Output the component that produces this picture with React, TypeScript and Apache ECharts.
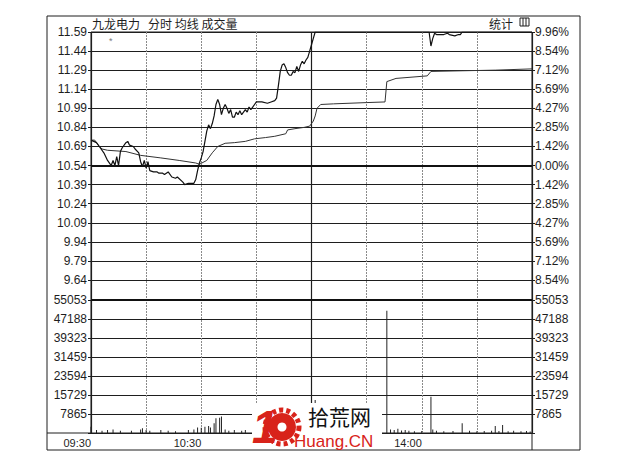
import React, { useEffect, useRef } from "react";
import * as echarts from "echarts";

// ---- tick labels ----
const priceTicks = ["11.59", "11.44", "11.29", "11.14", "10.99", "10.84", "10.69", "10.54", "10.39", "10.24", "10.09", "9.94", "9.79", "9.64"];
const pctTicks = ["9.96%", "8.54%", "7.12%", "5.69%", "4.27%", "2.85%", "1.42%", "0.00%", "1.42%", "2.85%", "4.27%", "5.69%", "7.12%", "8.54%"];
const volTicks = ["55053", "47188", "39323", "31459", "23594", "15729", "7865", ""];
const timeTickMinutes = [0, 60, 180];
const timeTickLabels = ["09:30", "10:30", "14:00"];
const prevClose = 10.54;
const sessionMinutes = 240;

// ---- price (minutes after 09:30, price) ----
const priceMinutes = [0, 3, 5, 7, 9, 11, 12, 13, 14, 15, 16, 17, 19, 20, 21, 23, 24, 26, 27, 28, 29, 30, 31, 32, 34, 36, 37, 39, 40, 42, 44, 46, 47, 50, 51, 53, 56, 57, 58, 59, 60, 61, 62, 63, 64, 65, 66, 67, 68, 69, 70, 71, 72, 73, 74, 75, 76, 77, 78, 79, 80, 81, 82, 84, 85, 86, 87, 88, 89, 90, 93, 96, 98, 100, 101, 102, 103, 104, 105, 106, 107, 108, 109, 110, 111, 112, 113, 114, 115, 116, 117, 118, 119, 120, 121, 122, 184, 185, 186, 187, 188, 190, 192, 194, 195, 198, 200, 201, 202, 240];
const priceValues = [10.74, 10.72, 10.68, 10.64, 10.58, 10.54, 10.58, 10.54, 10.61, 10.54, 10.65, 10.68, 10.72, 10.73, 10.70, 10.69, 10.67, 10.64, 10.57, 10.53, 10.58, 10.52, 10.57, 10.50, 10.49, 10.49, 10.48, 10.48, 10.47, 10.49, 10.45, 10.44, 10.45, 10.41, 10.39, 10.40, 10.40, 10.43, 10.50, 10.56, 10.60, 10.65, 10.73, 10.81, 10.86, 10.83, 10.87, 10.93, 11.02, 11.06, 11.02, 10.94, 10.99, 11.02, 10.99, 10.95, 10.98, 10.92, 10.92, 10.96, 10.94, 10.97, 10.94, 10.98, 10.96, 11.00, 10.98, 11.00, 11.02, 11.04, 11.04, 11.03, 11.04, 11.05, 11.07, 11.17, 11.28, 11.33, 11.34, 11.31, 11.27, 11.25, 11.25, 11.28, 11.27, 11.32, 11.28, 11.33, 11.36, 11.34, 11.37, 11.39, 11.44, 11.49, 11.54, 11.59, 11.59, 11.48, 11.54, 11.58, 11.57, 11.57, 11.57, 11.58, 11.57, 11.56, 11.57, 11.57, 11.59, 11.59];

// ---- average price ----
const avgMinutes = [0, 2, 4, 6, 9, 19, 27, 38, 48, 57, 59, 63, 66, 69, 73, 78, 84, 89, 95, 100, 106, 107, 111, 116, 119, 121, 122, 123, 125, 132, 150, 160, 161, 166, 183, 185, 202, 220, 240];
const avgValues = [10.74, 10.74, 10.70, 10.67, 10.66, 10.65, 10.62, 10.60, 10.58, 10.56, 10.55, 10.58, 10.64, 10.69, 10.715, 10.72, 10.73, 10.75, 10.76, 10.77, 10.79, 10.82, 10.83, 10.84, 10.85, 10.89, 10.93, 10.99, 11.02, 11.025, 11.035, 11.04, 11.20, 11.225, 11.245, 11.28, 11.285, 11.29, 11.30];

// ---- volume ----
const volMinutes = [0, 3, 6, 9, 12, 16, 22, 27, 28, 30, 32, 38, 42, 46, 53, 56, 58, 60, 62, 64, 65, 67, 68, 70, 71, 73, 75, 78, 82, 84, 88, 92, 97, 103, 122, 161, 163, 165, 167, 169, 171, 173, 176, 180, 185, 186, 188, 192, 197, 202, 206, 210, 214, 218, 220, 222, 224, 227, 230, 234, 237, 239];
const volValues = [2600, 1200, 950, 1200, 1500, 950, 950, 1500, 2000, 1200, 950, 1200, 950, 700, 1200, 1500, 2300, 2200, 2600, 2900, 2300, 4000, 6100, 6300, 6800, 1500, 950, 1200, 950, 1200, 700, 900, 700, 1500, 13700, 50600, 1500, 1200, 1800, 1000, 1200, 900, 700, 800, 15000, 1500, 900, 700, 800, 4000, 900, 700, 800, 900, 2900, 800, 3300, 700, 900, 700, 800, 600];

const FONT = "'Liberation Sans', Arial, sans-serif";
const CJK = "'Noto Sans CJK SC', sans-serif";
const INK = "#1e1e1e";

export default function App() {
  const ref = useRef<HTMLDivElement>(null);
  useEffect(() => {
    if (!ref.current) return;
    const chart = echarts.init(ref.current, undefined, { renderer: "svg" });
    const nP = priceTicks.length - 1;
    const nV = volTicks.length - 1;
    const priceMax = parseFloat(priceTicks[0]);
    const priceMin = parseFloat(priceTicks[nP]);
    const volMax = Number(volTicks[0]);

    const L = 91, W = 441;
    const hiddenX = (g: number) => ({ type: "value", gridIndex: g, min: 0, max: sessionMinutes, show: false });
    const idxAxis = (g: number, n: number, labels: string[], pos: string, split: boolean, margin: number) => ({
      type: "value", gridIndex: g, position: pos, min: 0, max: n, interval: 1,
      axisLine: { show: false },
      axisTick: { show: true, length: 3, lineStyle: { color: INK } },
      axisLabel: { margin, color: INK, fontSize: 12, fontFamily: FONT, formatter: (v: number) => labels[n - Math.round(v)] ?? "" },
      splitLine: { show: split, lineStyle: { color: INK, width: 1.2 } },
    });

    chart.setOption({
      animation: false,
      backgroundColor: "#fff",
      textStyle: { fontFamily: FONT },
      grid: [
        { left: L, width: W, top: 32, height: 248, show: false },
        { left: L, width: W, top: 300, height: 133, show: false },
        { left: L, width: W, top: 32, height: 401, show: true, borderColor: INK, borderWidth: 1 },
      ],
      xAxis: [
        hiddenX(0),
        hiddenX(1),
        {
          type: "value", gridIndex: 2, min: 0, max: sessionMinutes, interval: 30,
          axisLine: { show: false }, axisTick: { show: false },
          axisLabel: {
            align: "right", margin: 4, color: INK, fontSize: 11, fontFamily: FONT,
            formatter: (v: number) => { const i = timeTickMinutes.indexOf(v); return i >= 0 ? timeTickLabels[i] : ""; },
          },
          splitLine: { show: true, lineStyle: { color: "#8a8a8a", width: 1, type: [2, 1] } },
        },
        {
          type: "value", gridIndex: 2, min: 0, max: sessionMinutes, interval: 120,
          axisLine: { show: false }, axisTick: { show: false }, axisLabel: { show: false },
          splitLine: { show: true, lineStyle: { color: INK, width: 1.2 } },
        },
      ],
      yAxis: [
        idxAxis(0, nP, priceTicks, "left", true, 4),
        idxAxis(0, nP, pctTicks, "right", false, 3),
        { type: "value", gridIndex: 0, min: priceMin, max: priceMax, show: false },
        idxAxis(1, nV, volTicks, "left", true, 4),
        idxAxis(1, nV, volTicks, "right", false, 3),
        { type: "value", gridIndex: 1, min: 0, max: volMax, show: false },
        { type: "value", gridIndex: 2, show: false, splitLine: { show: false } },
      ],
      series: [
        {
          type: "line", name: "均线", xAxisIndex: 0, yAxisIndex: 2, symbol: "none", clip: true,
          data: avgMinutes.map((m, i) => [m, avgValues[i]]),
          lineStyle: { color: "#333", width: 1 },
        },
        {
          type: "line", name: "分时", xAxisIndex: 0, yAxisIndex: 2, symbol: "none", clip: true,
          data: priceMinutes.map((m, i) => [m, priceValues[i]]),
          lineStyle: { color: "#111", width: 1.2 },
          markLine: {
            silent: true, symbol: ["none", "none"], label: { show: false },
            lineStyle: { color: "#111", width: 2, type: "solid" },
            data: [{ yAxis: prevClose }],
          },
        },
        {
          type: "bar", name: "成交量", xAxisIndex: 1, yAxisIndex: 5, barWidth: 1,
          data: volMinutes.map((m, i) => [m, volValues[i]]),
          itemStyle: { color: "#222" },
          markLine: {
            silent: true, symbol: ["none", "none"], label: { show: false },
            lineStyle: { color: "#111", width: 2, type: "solid" },
            data: [{ yAxis: volMax }],
          },
        },
      ],
      graphic: [
        { type: "rect", shape: { x: 47, y: 16, width: 533, height: 434 }, style: { fill: "none", stroke: INK, lineWidth: 1 }, z: 10 },
        { type: "line", shape: { x1: 47, y1: 433, x2: 91, y2: 433 }, style: { stroke: INK, lineWidth: 1 } },
        { type: "line", shape: { x1: 532, y1: 433, x2: 532, y2: 450 }, style: { stroke: INK, lineWidth: 1 } },
        { type: "text", x: 92, y: 23, style: { text: "九龙电力", font: `12px ${CJK}`, fill: INK, verticalAlign: "middle" } },
        { type: "text", x: 148, y: 23, style: { text: "分时 均线 成交量", font: `12px ${CJK}`, fill: INK, verticalAlign: "middle" } },
        { type: "text", x: 489, y: 23, style: { text: "统计", font: `12px ${CJK}`, fill: INK, verticalAlign: "middle" } },
        { type: "rect", shape: { x: 520, y: 18, width: 9, height: 8 }, style: { fill: "none", stroke: INK, lineWidth: 1 } },
        { type: "line", shape: { x1: 523, y1: 18, x2: 523, y2: 26 }, style: { stroke: INK, lineWidth: 1 } },
        { type: "line", shape: { x1: 526, y1: 18, x2: 526, y2: 26 }, style: { stroke: INK, lineWidth: 1 } },
        { type: "text", x: 109, y: 36, style: { text: "*", font: `9px ${FONT}`, fill: "#777" } },
        // watermark
        { type: "rect", shape: { x: 252, y: 403, width: 130, height: 46 }, style: { fill: "#fff" }, z: 20 },
        { type: "text", x: 252, y: 404, style: { text: "1", font: `italic bold 46px ${FONT}`, fill: "#d8231a" }, z: 21 },
        { type: "circle", shape: { cx: 282, cy: 427, r: 17 }, style: { fill: "none", stroke: "#d8231a", lineWidth: 5, lineDash: [4, 3] }, z: 21 },
        { type: "circle", shape: { cx: 282, cy: 427, r: 14 }, style: { fill: "#d8231a" }, z: 21 },
        { type: "circle", shape: { cx: 282, cy: 427, r: 4.5 }, style: { fill: "#fff" }, z: 22 },
        { type: "text", x: 308, y: 404, style: { text: "拾荒网", font: `21px ${CJK}`, fill: "#111", lineHeight: 24 }, z: 21 },
        { type: "text", x: 294, y: 433, style: { text: "Huang.CN", font: `17px ${FONT}`, fill: "#d8231a", lineHeight: 17 }, z: 21 },
      ],
    });
    return () => chart.dispose();
  }, []);
  return <div ref={ref} style={{ position: "fixed", left: 0, top: 0, width: 640, height: 460, background: "#fff" }} />;
}
